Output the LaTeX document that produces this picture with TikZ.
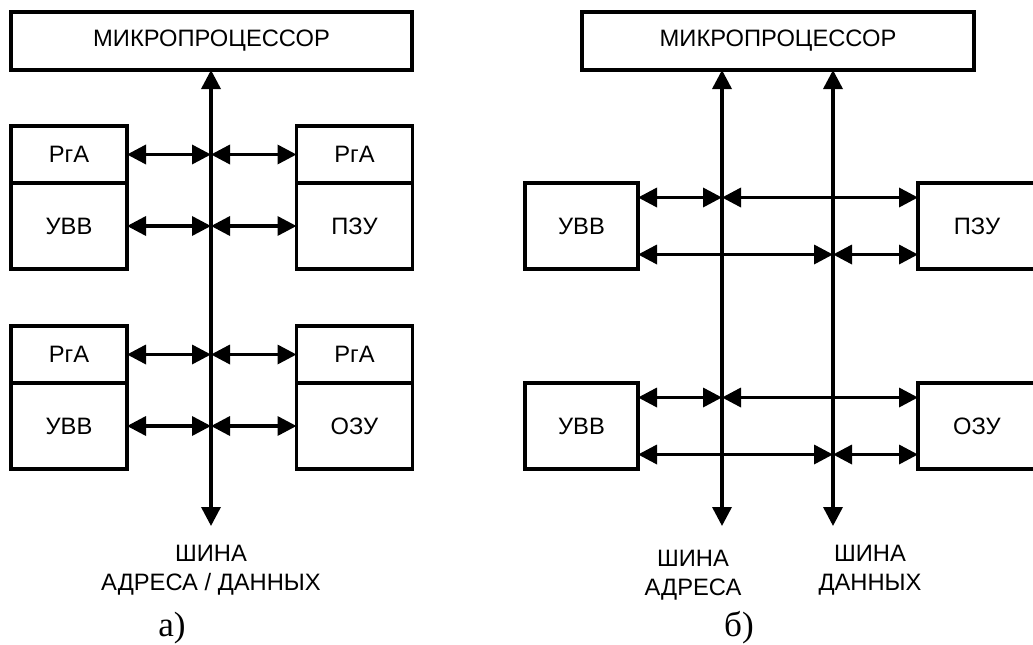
\documentclass[tikz,border=0pt]{standalone}
\usepackage{fontspec}
\setmainfont{Liberation Sans}
\newfontfamily\capfont{Liberation Serif}
\usetikzlibrary{arrows.meta,positioning}

\begin{document}
\begin{tikzpicture}[
		blk/.style={draw, line width=0.7mm, inner sep=0pt, outer sep=0pt, minimum width=2.32cm, font=\fontsize{13.5}{16.5}\selectfont},
		dbl/.style={line width=0.7mm, {Triangle[length=3.8mm,width=3.8mm]}-{Triangle[length=3.8mm,width=3.8mm]}},
		lbl/.style={align=center, inner sep=0pt, font=\fontsize{13.5}{16.5}\selectfont},
		capt/.style={inner sep=0pt, font=\capfont\fontsize{20}{24}\selectfont}
	]
		\def\hRg{1.14cm} % height of the register boxes
		\def\hDev{1.72cm} % height of the device boxes
		\def\dy{0.57cm} % offset of the two lines at one device
		
		\useasboundingbox (0,0) rectangle (20.66,-12.9);
		
		% a) one common bus
		\node[blk, minimum width=8.02cm, minimum height=1.16cm] (mpA) at (4.23,-0.82) {МИКРОПРОЦЕССОР};
		\coordinate (busA) at (4.22,-10.52);
		\draw[dbl] (mpA.south -| busA) -- (busA);
		
		\node[blk, minimum height=\hRg] (rgaA1) at (1.38,-3.09) {РгА};
		\node[blk, minimum height=\hDev, below=0pt of rgaA1] (uvvA1) {УВВ};
		\node[blk, minimum height=\hRg] (rgaA2) at (7.09,-3.09) {РгА};
		\node[blk, minimum height=\hDev, below=0pt of rgaA2] (pzuA) {ПЗУ};
		
		\node[blk, minimum height=\hRg] (rgaA3) at (1.38,-7.09) {РгА};
		\node[blk, minimum height=\hDev, below=0pt of rgaA3] (uvvA2) {УВВ};
		\node[blk, minimum height=\hRg] (rgaA4) at (7.09,-7.09) {РгА};
		\node[blk, minimum height=\hDev, below=0pt of rgaA4] (ozuA) {ОЗУ};
		
		\foreach \l/\r in {rgaA1/rgaA2, uvvA1/pzuA, rgaA3/rgaA4, uvvA2/ozuA} {
			\draw[dbl] (\l.east) -- (\l.east -| busA);
			\draw[dbl] (\l.east -| busA) -- (\r.west);
		}
		
		\node[lbl] (lblA) at (4.22,-11.40) {ШИНА\\АДРЕСА / ДАННЫХ};
		\node[capt] (capA) at (3.44,-12.56) {а)};
		
		% b) separate address and data buses
		\node[blk, minimum width=7.84cm, minimum height=1.16cm] (mpB) at (15.56,-0.82) {МИКРОПРОЦЕССОР};
		\coordinate (adrB) at (14.44,-10.52);
		\coordinate (datB) at (16.66,-10.52);
		\draw[dbl] (mpB.south -| adrB) -- (adrB);
		\draw[dbl] (mpB.south -| datB) -- (datB);
		
		\node[blk, minimum width=2.26cm, minimum height=\hDev] (uvvB1) at (11.63,-4.52) {УВВ};
		\node[blk, minimum width=2.36cm, minimum height=\hDev] (pzuB) at (19.54,-4.52) {ПЗУ};
		\node[blk, minimum width=2.26cm, minimum height=\hDev] (uvvB2) at (11.63,-8.52) {УВВ};
		\node[blk, minimum width=2.36cm, minimum height=\hDev] (ozuB) at (19.54,-8.52) {ОЗУ};
		
		\foreach \l/\r in {uvvB1/pzuB, uvvB2/ozuB} {
			% address lines
			\draw[dbl] ([yshift=\dy]\l.east) -- ([yshift=\dy]\l.east -| adrB);
			\draw[dbl] ([yshift=\dy]\l.east -| adrB) -- ([yshift=\dy]\r.west);
			% data lines
			\draw[dbl] ([yshift=-\dy]\l.east) -- ([yshift=-\dy]\l.east -| datB);
			\draw[dbl] ([yshift=-\dy]\l.east -| datB) -- ([yshift=-\dy]\r.west);
		}
		
		\node[lbl] (lblAdr) at (13.86,-11.50) {ШИНА\\АДРЕСА};
		\node[lbl] (lblDat) at (17.40,-11.40) {ШИНА\\ДАННЫХ};
		\node[capt] (capB) at (14.78,-12.56) {б)};
	\end{tikzpicture}
\end{document}
